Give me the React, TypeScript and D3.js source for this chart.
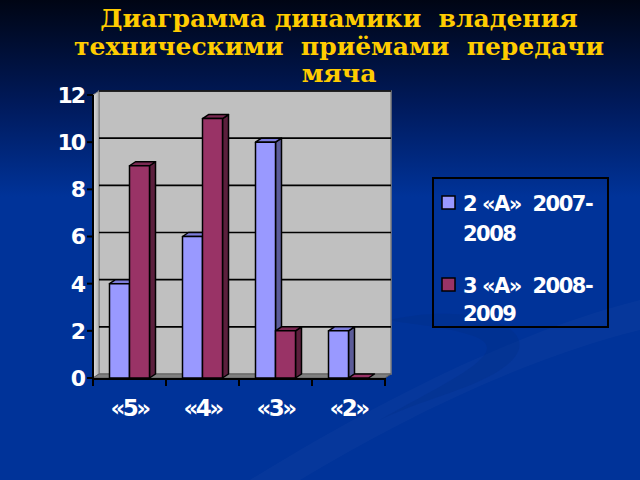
import * as d3 from "d3";

const categories = ["«5»", "«4»", "«3»", "«2»"];
const seriesNames = ["2 «А»  2007-2008", "3 «А»  2008-2009"];
const legendLines = [
  ["2 «А»  2007-", "2008"],
  ["3 «А»  2008-", "2009"],
];
const series1 = [4, 6, 10, 2];
const series2 = [9, 11, 2, 0];
const yTicks = [0, 2, 4, 6, 8, 10, 12];
const titleLines = [
  "Диаграмма динамики  владения",
  "техническими  приёмами  передачи",
  "мяча",
];

const W = 640;
const H = 480;
const DX = 6;
const DY = -4;

const fills = [
  { front: "#9999ff", top: "#7d7ddb", side: "#5c5c99" },
  { front: "#993366", top: "#7a2952", side: "#5c1f3d" },
];

// keep double spaces visible in svg text
const nb = (s: string) => s.replace(/ /g, "\u00a0");

export default function App() {
  const x = d3.scaleBand<string>().domain(categories).range([93, 385]);
  const y = d3.scaleLinear().domain([0, 12]).range([378, 95]);
  const barW = 20;
  const inner = d3
    .scaleBand<string>()
    .domain(seriesNames)
    .range([0, barW * 2]);
  const groupOffset = (x.bandwidth() - barW * 2) / 2;

  const [x0, x1] = x.range();
  const yb = y(0);
  const yt = y(12);

  const bars = [series1, series2].flatMap((vals, si) =>
    vals.map((v, ci) => {
      const bx = x(categories[ci])! + groupOffset + inner(seriesNames[si])!;
      return { bx, top: y(v), si, key: `${si}-${ci}` };
    }),
  );

  const line = (pts: [number, number][]) => d3.line()(pts) + "Z";

  return (
    <div style={{ position: "fixed", left: 0, top: 0 }}>
      <svg width={W} height={H} style={{ display: "block" }}>
        <defs>
          <linearGradient id="bg" x1="0" y1="0" x2="0" y2="1">
            <stop offset="0" stopColor="#000514" />
            <stop offset="0.22" stopColor="#001a5c" />
            <stop offset="0.41" stopColor="#003399" />
            <stop offset="1" stopColor="#003399" />
          </linearGradient>
          <linearGradient id="lw" x1="0" y1="0" x2="1" y2="0">
            <stop offset="0" stopColor="#e0e0e0" />
            <stop offset="1" stopColor="#b0b0b0" />
          </linearGradient>
        </defs>
        <rect width={W} height={H} fill="url(#bg)" />
        <path
          d="M250,480 C380,400 520,330 640,300 L640,330 C520,360 400,420 300,480 Z"
          fill="#ffffff"
          opacity={0.025}
        />
        <path
          d="M390,320 C470,300 560,330 500,370 C470,390 420,400 380,420 C450,380 520,350 470,335 C440,325 410,325 390,320 Z"
          fill="#002a80"
          opacity={0.25}
        />

        {/* title */}
        <g
          fill="#ffcc00"
          fontFamily="'DejaVu Serif', serif"
          fontWeight="bold"
          fontSize={25}
          textAnchor="middle"
        >
          {titleLines.map((t, i) => (
            <text key={i} x={339} y={27 + i * 27.5}>
              {nb(t)}
            </text>
          ))}
        </g>

        {/* walls */}
        <path
          d={line([
            [x0 + DX, yt + DY],
            [x1 + DX, yt + DY],
            [x1 + DX, yb + DY],
            [x0 + DX, yb + DY],
          ])}
          fill="#c0c0c0"
          stroke="#808080"
          strokeWidth={1.5}
        />
        <path
          d={line([
            [x0, yt],
            [x0 + DX, yt + DY],
            [x0 + DX, yb + DY],
            [x0, yb],
          ])}
          fill="url(#lw)"
          stroke="#808080"
          strokeWidth={1}
        />
        <path
          d={line([
            [x0, yb],
            [x0 + DX, yb + DY],
            [x1 + DX, yb + DY],
            [x1, yb],
          ])}
          fill="#808080"
          stroke="#606060"
          strokeWidth={1}
        />
        {yTicks.slice(1).map((t) => (
          <line
            key={t}
            x1={x0 + DX}
            x2={x1 + DX}
            y1={y(t) + DY}
            y2={y(t) + DY}
            stroke="#000"
            strokeWidth={1.6}
          />
        ))}

        {/* bars */}
        {bars.map((b) => {
          const c = fills[b.si];
          const r = b.bx + barW;
          return (
            <g key={b.key} stroke="#000" strokeWidth={1.5} strokeLinejoin="round">
              {b.top < yb && (
                <path
                  d={line([
                    [r, b.top],
                    [r + DX, b.top + DY],
                    [r + DX, yb + DY],
                    [r, yb],
                  ])}
                  fill={c.side}
                />
              )}
              <path
                d={line([
                  [b.bx, b.top],
                  [b.bx + DX, b.top + DY],
                  [r + DX, b.top + DY],
                  [r, b.top],
                ])}
                fill={b.top < yb ? c.top : c.front}
              />
              {b.top < yb && (
                <rect x={b.bx} y={b.top} width={barW} height={yb - b.top} fill={c.front} />
              )}
            </g>
          );
        })}

        {/* axes */}
        <line x1={x0} x2={x0} y1={yt} y2={yb} stroke="#000" strokeWidth={2} />
        <line x1={x0} x2={x1} y1={yb + 1} y2={yb + 1} stroke="#000" strokeWidth={2} />
        {yTicks.map((t) => (
          <line key={t} x1={x0 - 6} x2={x0} y1={y(t)} y2={y(t)} stroke="#000" strokeWidth={2} />
        ))}
        {[...categories.map((c) => x(c)!), x1].map((v, i) => (
          <line key={i} x1={v} x2={v} y1={yb} y2={yb + 8} stroke="#000" strokeWidth={2} />
        ))}

        <g fill="#fff" fontFamily="'DejaVu Sans', sans-serif" fontWeight="bold">
          {yTicks.map((t) => (
            <text
              key={t}
              x={84}
              y={y(t)}
              dy="0.36em"
              textAnchor="end"
              fontSize={22}
              letterSpacing={-2}
            >
              {t}
            </text>
          ))}
          {categories.map((c) => (
            <text
              key={c}
              x={x(c)! + x.bandwidth() / 2}
              y={416}
              textAnchor="middle"
              letterSpacing={-2.5}
              fontSize={23}
            >
              {c}
            </text>
          ))}
        </g>

        {/* legend */}
        <rect x={433} y={178} width={175} height={149} fill="none" stroke="#000" strokeWidth={2} />
        {seriesNames.map((s, i) => {
          const ly = 196 + i * 82;
          return (
            <g key={s}>
              <rect
                x={442}
                y={ly}
                width={13}
                height={13}
                fill={fills[i].front}
                stroke="#000"
                strokeWidth={1.5}
              />
              <text
                fill="#fff"
                fontFamily="'DejaVu Sans', sans-serif"
                fontWeight="bold"
                fontSize={21}
                letterSpacing={-1.5}
              >
                {legendLines[i].map((l, j) => (
                  <tspan key={j} x={463} y={ly + 15 + j * (i === 0 ? 30 : 28)}>
                    {nb(l)}
                  </tspan>
                ))}
              </text>
            </g>
          );
        })}
      </svg>
    </div>
  );
}
